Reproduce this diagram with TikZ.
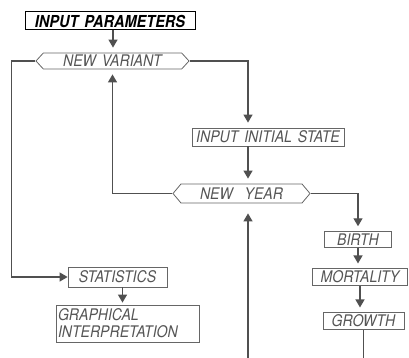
\documentclass[tikz,border=0pt]{standalone}
\usepackage{fontspec}
\setmainfont{TeX Gyre Heros}
\newfontfamily\chartfont[FakeStretch=0.88,WordSpace=1.5]{TeX Gyre Heros}
\usepackage{xcolor}
\usepackage{tikz}
\usetikzlibrary{arrows.meta,shapes.symbols}
\definecolor{cLine}{HTML}{505050}
\definecolor{cText}{HTML}{555555}
\definecolor{cFrame}{HTML}{666666}
\tikzset{
  box/.style={draw=cFrame, line width=0.8pt, text=cText, inner sep=2pt,
              font=\chartfont\itshape\fontsize{16}{17}\selectfont},
  hexa/.style={signal, signal to=west and east, signal pointer angle=#1,
               draw=cFrame, line width=0.8pt, text=cText, inner sep=2pt,
               font=\chartfont\itshape\fontsize{16}{17}\selectfont},
  flow/.style={-{Triangle[length=8pt,width=9pt]}, line width=1.3pt, draw=cLine, shorten >=5pt},
  feed/.style={line width=1.3pt, draw=cLine},
}

\begin{document}
\begin{tikzpicture}[x=1pt,y=-1pt]
  \useasboundingbox (0,0) rectangle (409,358);
  % top of the chart
  \node[box, draw=black, text=black, line width=1pt, font=\chartfont\bfseries\itshape\fontsize{16.5}{17}\selectfont,
        minimum width=170pt, minimum height=18pt] (par) at (110,21) {INPUT PARAMETERS};
  \node[hexa=95, minimum width=153pt, minimum height=16pt] (var) at (112.5,61) {NEW VARIANT\hspace{10pt}};
  \node[box, minimum width=152pt, minimum height=18pt] (init) at (268,137) {INPUT INITIAL STATE};
  \node[hexa=100, minimum width=137pt, minimum height=19pt] (year) at (241.5,193.5) {NEW\ \ YEAR\hspace{6pt}};
  % yearly steps
  \node[box, minimum width=67pt, minimum height=15pt] (birth) at (358,239.5) {BIRTH};
  \node[box, minimum width=95pt, minimum height=16pt] (mort) at (360,277) {MORTALITY};
  \node[box, minimum width=81pt, minimum height=16pt] (grow) at (363.5,321) {GROWTH};
  % results
  \node[box, minimum width=99pt, minimum height=20pt] (stat) at (117.5,277) {STATISTICS};
  \node[box, minimum width=143pt, minimum height=37pt, align=left, text width=139pt] (graph) at (127.5,323.5)
       {GRAPHICAL\\INTERPRETATION};
  \coordinate (loopin) at (248,358);
  \coordinate (loopout) at (363.5,358);
  % connectors
  \draw[flow] ([xshift=3pt]par.south) -- ([xshift=3pt]par.south |- var.north);
  \draw[flow] (var.east) -| ([xshift=-20pt]init.north);
  \draw[flow] ([xshift=-20pt]init.south) -- ([xshift=-20pt]init.south |- year.north);
  \draw[flow] (year.west) -| (var.south);
  \draw[flow] (year.east) -| (birth.north);
  \draw[flow] (birth.south) -- (birth.south |- mort.north);
  \draw[flow] (mort.south) -- (mort.south |- grow.north);
  \draw[feed] (grow.south) -- (loopout);
  \draw[flow, shorten >=10pt] (loopin) -- (loopin |- year.south);
  \draw[flow, shorten >=0pt] (var.west) -- ++(-24,0) |- (stat.west);
  \draw[flow, shorten >=2pt] ([xshift=5pt]stat.south) -- ([xshift=5pt]stat.south |- graph.north);
\end{tikzpicture}
\end{document}
